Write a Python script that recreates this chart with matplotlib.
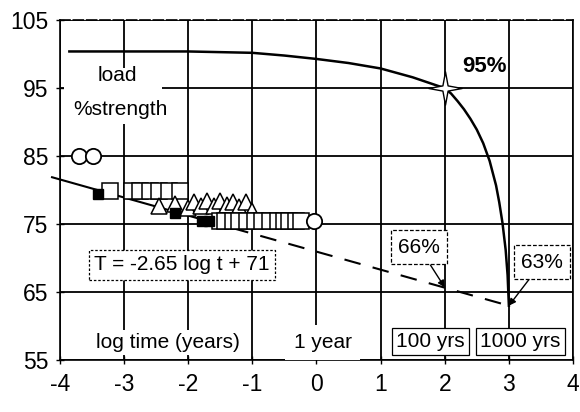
import matplotlib
matplotlib.use("Agg")
import matplotlib.pyplot as plt
from matplotlib.path import Path
from matplotlib.patches import Rectangle

plt.rcParams['font.family'] = ['Liberation Sans', 'DejaVu Sans']

# ---- data ----
x_ticks = [-4, -3, -2, -1, 0, 1, 2, 3, 4]
y_ticks = [55, 65, 75, 85, 95, 105]

curve_x = [-3.85, -3.0, -2.0, -1.0, -0.5, 0.0, 0.5, 1.0, 1.5, 2.0, 2.1, 2.2, 2.3, 2.4, 2.5,
           2.6, 2.7, 2.8, 2.85, 2.9, 2.95, 2.98, 3.0]
curve_y = [100.4, 100.4, 100.4, 100.2, 99.8, 99.3, 98.7, 97.9, 96.6, 95.0, 94.2, 93.1, 91.9, 90.5, 88.9,
           86.9, 84.3, 80.7, 78.2, 75.2, 71.2, 67.5, 63.0]

star_x = [2.0]
star_y = [95.0]

trend_solid_x = [-4.12, -1.75]
trend_solid_y = [81.9, 75.6]
trend_dash_x = [-1.75, 3.0]
trend_dash_y = [75.6, 63.0]

circle_x = [-3.70, -3.48, -0.03]
circle_y = [85.0, 85.0, 75.5]

sq_up_x = [-3.22, -2.88, -2.75, -2.6, -2.45, -2.3, -2.12]
sq_up_y = [79.8, 79.8, 79.8, 79.8, 79.8, 79.8, 79.8]

sq_low_x = [-1.5, -1.42, -1.3, -1.2, -1.08, -0.95, -0.85, -0.72, -0.6, -0.5, -0.42, -0.32, -0.24]
sq_low_y = [75.5, 75.5, 75.5, 75.5, 75.5, 75.5, 75.5, 75.5, 75.5, 75.5, 75.5, 75.5, 75.5]

tri_x = [-2.45, -2.2, -2.0, -1.9, -1.8, -1.7, -1.6, -1.5, -1.4, -1.3, -1.2, -1.1, -1.0]
tri_y = [77.6, 77.9, 77.4, 78.3, 77.6, 78.4, 77.6, 78.4, 77.8, 78.3, 77.5, 78.2, 76.9]

filled_x = [-3.4, -2.2, -1.78, -1.68]
filled_y = [79.5, 76.7, 75.4, 75.4]

fig = plt.figure(figsize=(5.8, 4.12), dpi=100)
ax = fig.add_axes([0.103, 0.126, 0.885, 0.825])
ax.set_xlim(-4, 4)
ax.set_ylim(55, 105)
ax.set_xticks(x_ticks)
ax.set_yticks(y_ticks)
ax.set_xticklabels([str(v) for v in x_ticks], fontsize=16.5)
ax.set_yticklabels([str(v) for v in y_ticks], fontsize=16.5)
ax.tick_params(axis='x', direction='inout', length=6, width=1, pad=6)
ax.tick_params(axis='y', direction='inout', length=6, width=1, pad=5)
ax.grid(True, color='black', linewidth=1.3)
ax.set_axisbelow(True)
for s in ax.spines.values():
    s.set_color('black')
    s.set_linewidth(1.2)
ax.spines['top'].set_linestyle((0, (6, 2)))

# white label area behind "load / %strength"
ax.add_patch(Rectangle((-3.93, 89.8), 1.53, 8.1, facecolor='white', edgecolor='none', zorder=2))

# curve
ax.plot(curve_x, curve_y, color='black', lw=1.8, zorder=3)
star = Path.unit_regular_star(4, 0.22)
ax.plot(star_x, star_y, marker=star, markersize=24, mfc='white', mec='black', mew=1.0, ls='none', zorder=5)

# trend line
ax.plot(trend_solid_x, trend_solid_y, color='black', lw=1.5, zorder=4, clip_on=False)
ax.plot(trend_dash_x, trend_dash_y, color='black', lw=1.5, ls=(0, (8, 6)), zorder=4)

# data markers
ax.plot(sq_up_x, sq_up_y, 's', ms=11.5, mfc='white', mec='black', mew=1.1, ls='none', zorder=4)
ax.plot(tri_x, tri_y, '^', ms=11.5, mfc='white', mec='black', mew=1.1, ls='none', zorder=4)
ax.plot(sq_low_x, sq_low_y, 's', ms=11.5, mfc='white', mec='black', mew=1.1, ls='none', zorder=4)
ax.plot(circle_x, circle_y, 'o', ms=11, mfc='white', mec='black', mew=1.3, ls='none', zorder=4)
ax.plot(filled_x, filled_y, 's', ms=7, mfc='black', mec='black', ls='none', zorder=5)

# texts
fs = 15
wb = dict(boxstyle='square,pad=0.15', fc='white', ec='none')
ax.text(-3.1, 96.8, 'load', fontsize=fs, ha='center', va='center', zorder=6)
ax.text(-3.05, 91.8, '%strength', fontsize=fs, ha='center', va='center', zorder=6)
ax.text(2.62, 98.2, '95%', fontsize=16, fontweight='bold', ha='center', va='center', zorder=6)

ax.text(-2.1, 69.0, 'T = -2.65 log t + 71', fontsize=fs, ha='center', va='center', zorder=6,
        bbox=dict(boxstyle='square,pad=0.25', fc='white', ec='black', lw=0.9, ls=(0, (2, 1.5))))

ax.annotate('66%', xy=(2.0, 65.7), xytext=(1.6, 71.6), fontsize=fs, ha='center', va='center', zorder=6,
            bbox=dict(boxstyle='square,pad=0.35', fc='white', ec='black', lw=0.9, ls=(0, (3, 1.5))),
            arrowprops=dict(arrowstyle='-|>', color='black', lw=1.0, shrinkA=0, shrinkB=0, mutation_scale=10))
ax.annotate('63%', xy=(3.0, 63.0), xytext=(3.52, 69.4), fontsize=fs, ha='center', va='center', zorder=6,
            bbox=dict(boxstyle='square,pad=0.35', fc='white', ec='black', lw=0.9, ls=(0, (3, 1.5))),
            arrowprops=dict(arrowstyle='-|>', color='black', lw=1.0, shrinkA=0, shrinkB=0, mutation_scale=10))

ax.text(-2.32, 57.6, 'log time (years)', fontsize=fs, ha='center', va='center', bbox=wb, zorder=6)
ax.text(0.1, 57.6, '1 year', fontsize=fs, ha='center', va='center',
        bbox=dict(boxstyle='square,pad=0.4', fc='white', ec='none'), zorder=6)
ax.text(1.78, 57.7, '100 yrs', fontsize=fs, ha='center', va='center', zorder=6,
        bbox=dict(boxstyle='square,pad=0.2', fc='white', ec='black', lw=0.9))
ax.text(3.18, 57.7, '1000 yrs', fontsize=fs, ha='center', va='center', zorder=6,
        bbox=dict(boxstyle='square,pad=0.2', fc='white', ec='black', lw=0.9))

fig.savefig('out.png', dpi=100)
